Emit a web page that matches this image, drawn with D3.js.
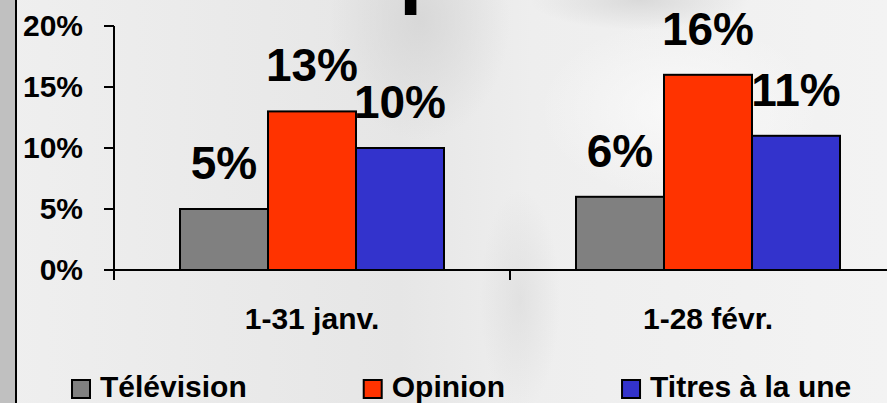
<!DOCTYPE html>
<html>
<head>
<meta charset="utf-8">
<script src="https://cdn.jsdelivr.net/npm/d3@7/dist/d3.min.js"></script>
<style>
  html, body { margin: 0; padding: 0; background: #ececec; }
  svg { display: block; }
  text { font-family: "Liberation Sans", Arial, sans-serif; font-weight: bold; fill: #000; }
</style>
</head>
<body>
<script>
// ---- data ----
const categories = ["1-31 janv.", "1-28 févr."];
const series = ["Télévision", "Opinion", "Titres à la une"];
const television = [5, 6];
const opinion = [13, 16];
const titres = [10, 11];
const seriesValues = [television, opinion, titres];
const colors = ["#808080", "#ff3300", "#3333cc"];
const yTicks = [0, 5, 10, 15, 20];

const W = 887, H = 403;
const svg = d3.select("body").append("svg").attr("width", W).attr("height", H);

// background
const defs = svg.append("defs");
const lg = defs.append("linearGradient").attr("id", "bg").attr("x1", 0).attr("x2", 1).attr("y1", 0).attr("y2", 0);
lg.append("stop").attr("offset", "0%").attr("stop-color", "#efefef");
lg.append("stop").attr("offset", "45%").attr("stop-color", "#e6e6e6");
lg.append("stop").attr("offset", "60%").attr("stop-color", "#eeeeee");
lg.append("stop").attr("offset", "100%").attr("stop-color", "#f3f3f3");
svg.append("rect").attr("width", W).attr("height", H).attr("fill", "url(#bg)");
const rg = defs.append("radialGradient").attr("id", "blob");
rg.append("stop").attr("offset", "0%").attr("stop-color", "#d4d4d4").attr("stop-opacity", 0.8);
rg.append("stop").attr("offset", "100%").attr("stop-color", "#d4d4d4").attr("stop-opacity", 0);
svg.append("ellipse").attr("cx", 420).attr("cy", 20).attr("rx", 90).attr("ry", 120).attr("fill", "url(#blob)");
svg.append("ellipse").attr("cx", 640).attr("cy", 0).attr("rx", 110).attr("ry", 30).attr("fill", "url(#blob)");
svg.append("ellipse").attr("cx", 520).attr("cy", 300).attr("rx", 40).attr("ry", 110).attr("fill", "url(#blob)").attr("opacity", 0.6);
const rg2 = defs.append("radialGradient").attr("id", "light");
rg2.append("stop").attr("offset", "0%").attr("stop-color", "#fafafa").attr("stop-opacity", 0.9);
rg2.append("stop").attr("offset", "100%").attr("stop-color", "#fafafa").attr("stop-opacity", 0);
svg.append("ellipse").attr("cx", 680).attr("cy", 110).attr("rx", 140).attr("ry", 90).attr("fill", "url(#light)");

// left strip
svg.append("rect").attr("x", 0).attr("y", 0).attr("width", 15).attr("height", H).attr("fill", "#c0c0c0");
svg.append("rect").attr("x", 15).attr("y", 0).attr("width", 2).attr("height", H).attr("fill", "#000");

// partial title (cut off at top, only a descender shows)
svg.append("text").attr("x", 399).attr("y", -2).attr("font-size", 84).text("p");

// scales
const x0 = d3.scaleBand().domain(categories).range([114, 906]).paddingInner(0).paddingOuter(0);
const x1 = d3.scaleBand().domain(series).range([0, x0.bandwidth()]).paddingInner(0).paddingOuter(0.75);
const y = d3.scaleLinear().domain([0, 20]).range([270, 26]);

// y axis
const yAxis = svg.append("g").attr("transform", "translate(114,0)")
  .call(d3.axisLeft(y).tickValues(yTicks).tickSize(10).tickSizeOuter(0).tickPadding(21)
    .tickFormat(d => d + "%").offset(0));
yAxis.selectAll("path, line").attr("stroke", "#000").attr("stroke-width", 2);
yAxis.selectAll("text").attr("font-size", 30).attr("font-family", null).attr("fill", "#000");

// bars
const groups = svg.append("g").selectAll("g").data(categories).join("g")
  .attr("transform", c => `translate(${x0(c)},0)`);
series.forEach((s, si) => {
  groups.append("rect")
    .attr("x", x1(s))
    .attr("y", (c, ci) => y(seriesValues[si][ci]))
    .attr("width", x1.bandwidth())
    .attr("height", (c, ci) => y(0) - y(seriesValues[si][ci]))
    .attr("fill", colors[si])
    .attr("stroke", "#000").attr("stroke-width", 2);
});
series.forEach((s, si) => {
  groups.append("text")
    .attr("x", x1(s) + x1.bandwidth() / 2)
    .attr("y", (c, ci) => y(seriesValues[si][ci]) - 30)
    .attr("text-anchor", "middle")
    .attr("font-size", 46)
    .text((c, ci) => seriesValues[si][ci] + "%");
});

// x axis
const xAxis = svg.append("g").attr("transform", `translate(0,${y(0)})`)
  .call(d3.axisBottom(x0).tickSize(0).tickSizeOuter(10).tickFormat("").offset(0));
xAxis.select("path").attr("stroke", "#000").attr("stroke-width", 2);
xAxis.selectAll(".tick").remove();
xAxis.selectAll("line.bound").data(categories.slice(1)).join("line").attr("class", "bound")
  .attr("x1", c => x0(c)).attr("x2", c => x0(c)).attr("y1", 0).attr("y2", 10)
  .attr("stroke", "#000").attr("stroke-width", 2);
svg.append("line").attr("x1", 104).attr("x2", 114).attr("y1", y(0)).attr("y2", y(0))
  .attr("stroke", "#000").attr("stroke-width", 2);

// category labels
svg.append("g").selectAll("text").data(categories).join("text")
  .attr("x", c => x0(c) + x0.bandwidth() / 2)
  .attr("y", 329)
  .attr("text-anchor", "middle")
  .attr("font-size", 30)
  .text(c => c);

// legend
const legend = svg.append("g");
let lx = 72;
series.forEach((s, si) => {
  legend.append("rect").attr("x", lx).attr("y", 380).attr("width", 18).attr("height", 18)
    .attr("fill", colors[si]).attr("stroke", "#000").attr("stroke-width", 2);
  const t = legend.append("text").attr("x", lx + 28).attr("y", 397).attr("font-size", 30).text(s);
  lx = lx + 28 + t.node().getComputedTextLength() + 117;
});
</script>
</body>
</html>
